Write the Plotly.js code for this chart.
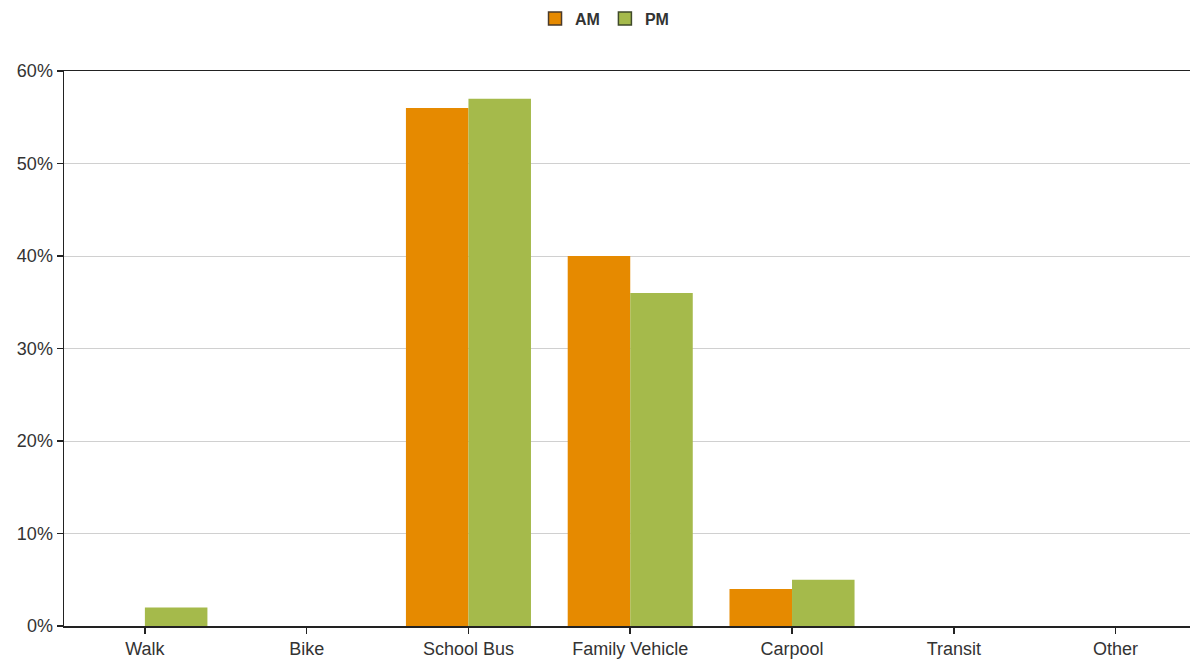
<!DOCTYPE html>
<html>
<head>
<meta charset="utf-8">
<script src="https://cdn.plot.ly/plotly-3.0.1.min.js"></script>
<style>html,body{margin:0;padding:0;background:#fff;}#chart{width:1190px;height:663px;}</style>
</head>
<body>
<div id="chart"></div>
<script>
var categories = ["Walk", "Bike", "School Bus", "Family Vehicle", "Carpool", "Transit", "Other"];
var amValues = [0, 0, 56, 40, 4, 0, 0];
var pmValues = [2, 0, 57, 36, 5, 0, 0];
var tickVals = [0, 10, 20, 30, 40, 50, 60];
var tickText = ["0%", "10%", "20%", "30%", "40%", "50%", "60%"];
var amColor = "#E68A00";
var pmColor = "#A5BA4B";

var data = [
  {type: "bar", name: "AM", x: categories, y: amValues, marker: {color: amColor}, showlegend: false, hoverinfo: "x+y"},
  {type: "bar", name: "PM", x: categories, y: pmValues, marker: {color: pmColor}, showlegend: false, hoverinfo: "x+y"},
  {type: "scatter", mode: "markers", name: "AM", x: [null], y: [null], marker: {symbol: "square", size: 13, color: amColor, line: {color: "#4a3a2a", width: 1.5}}},
  {type: "scatter", mode: "markers", name: "PM", x: [null], y: [null], marker: {symbol: "square", size: 13, color: pmColor, line: {color: "#3f4a2a", width: 1.5}}}
];

var layout = {
  width: 1190, height: 663,
  margin: {l: 64, r: 0, t: 71, b: 37},
  paper_bgcolor: "#fff", plot_bgcolor: "#fff",
  barmode: "group",
  bargap: 0.227,
  bargroupgap: 0,
  font: {family: "Liberation Sans, Arial, sans-serif", size: 18, color: "#333"},
  showlegend: true,
  legend: {orientation: "h", xref: "container", yref: "container", x: 0.508, xanchor: "center", y: 0.972, yanchor: "middle",
           font: {size: 16, color: "#333", weight: "bold"}, itemwidth: 30, tracegroupgap: 0, itemclick: false},
  xaxis: {
    type: "category",
    categoryorder: "array", categoryarray: categories,
    range: [-0.5, 6.46],
    showline: true, linecolor: "#222", linewidth: 1.5, mirror: true,
    ticks: "outside", ticklen: 6, tickcolor: "#222", tickwidth: 1.5,
    showgrid: false, zeroline: false,
    tickfont: {size: 18, color: "#333"},
    fixedrange: true
  },
  yaxis: {
    range: [0, 60],
    tickvals: tickVals, ticktext: tickText,
    showline: true, linecolor: "#222", linewidth: 1.5,
    ticks: "outside", ticklen: 6, tickcolor: "#222", tickwidth: 1.5,
    showgrid: true, gridcolor: "#d0d0d0", gridwidth: 1,
    zeroline: false,
    tickfont: {size: 18, color: "#333"},
    fixedrange: true
  }
};

Plotly.newPlot("chart", data, layout, {displayModeBar: false, staticPlot: true});
</script>
</body>
</html>
